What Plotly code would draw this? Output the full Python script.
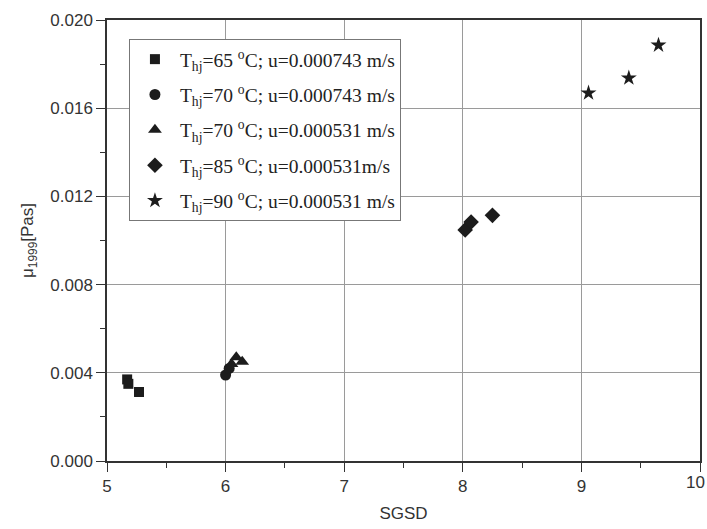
import plotly.graph_objects as go

sq_x = [5.17, 5.18, 5.27]
sq_y = [0.0037, 0.0035, 0.00313]
ci_x = [6.00, 6.03]
ci_y = [0.0039, 0.0042]
tr_x = [6.05, 6.09, 6.14]
tr_y = [0.0044, 0.0047, 0.0045]
di_x = [8.02, 8.07, 8.25]
di_y = [0.01048, 0.01084, 0.01114]
st_x = [9.06, 9.40, 9.65]
st_y = [0.01669, 0.01737, 0.01886]

x_last_tick = 10

names = [
    "T<sub>hj</sub>=65 <sup>o</sup>C; u=0.000743 m/s",
    "T<sub>hj</sub>=70 <sup>o</sup>C; u=0.000743 m/s",
    "T<sub>hj</sub>=70 <sup>o</sup>C; u=0.000531 m/s",
    "T<sub>hj</sub>=85 <sup>o</sup>C; u=0.000531m/s",
    "T<sub>hj</sub>=90 <sup>o</sup>C; u=0.000531 m/s",
]
symbols = ["square", "circle", "triangle-up", "diamond", "star"]
sizes = [10, 11, 12, 12, 12]
xs = [sq_x, ci_x, tr_x, di_x, st_x]
ys = [sq_y, ci_y, tr_y, di_y, st_y]

fig = go.Figure()
for i in range(5):
    fig.add_trace(go.Scatter(
        x=xs[i], y=ys[i], mode="markers", name=names[i],
        legendgroup=str(i),
        marker=dict(symbol=symbols[i], size=sizes[i], color="#1c1c1c",
                    line=dict(width=0)),
    ))

axis_common = dict(
    showline=True, linecolor="#333", linewidth=1.5, mirror=True,
    ticks="outside", ticklen=9, tickwidth=1.3, tickcolor="#333",
    showgrid=True, gridcolor="#9a9a9a", gridwidth=1,
    zeroline=False, automargin=False,
    tickfont=dict(family="Liberation Sans, Arial", size=17, color="#333"),
    title_font=dict(family="Liberation Sans, Arial", size=17, color="#333"),
)

fig.update_xaxes(range=[5, 10], dtick=1, tick0=5,
                 minor=dict(dtick=0.5, ticks="outside", ticklen=5, tickcolor="#333", showgrid=False),
                 title_text="SGSD", title_standoff=12, **axis_common)
fig.update_yaxes(range=[0, 0.020], dtick=0.004, tick0=0, tickformat=".3f",
                 minor=dict(dtick=0.002, ticks="outside", ticklen=5, tickcolor="#333", showgrid=False),
                 title_text="μ<sub>1999</sub>[Pas]", title_standoff=12, **axis_common)

# the last x tick label, which the axis would hide at the page edge
fig.add_annotation(x=x_last_tick, y=0, xref="x", yref="y", text=str(x_last_tick),
                   showarrow=False, yanchor="top", xanchor="right", xshift=7, yshift=-10,
                   font=dict(family="Liberation Sans, Arial", size=17, color="#333"))

fig.update_layout(
    width=707, height=529,
    margin=dict(l=107, r=7, t=20, b=68),
    plot_bgcolor="white", paper_bgcolor="white",
    showlegend=True,
    legend=dict(
        x=0.037, y=0.957, xanchor="left", yanchor="top",
        bgcolor="white", bordercolor="#777", borderwidth=1,
        font=dict(family="Liberation Serif, Times New Roman", size=19.5, color="#222"),
        traceorder="grouped", tracegroupgap=7,
        itemwidth=40,
    ),
)

fig.write_html("out.html")
